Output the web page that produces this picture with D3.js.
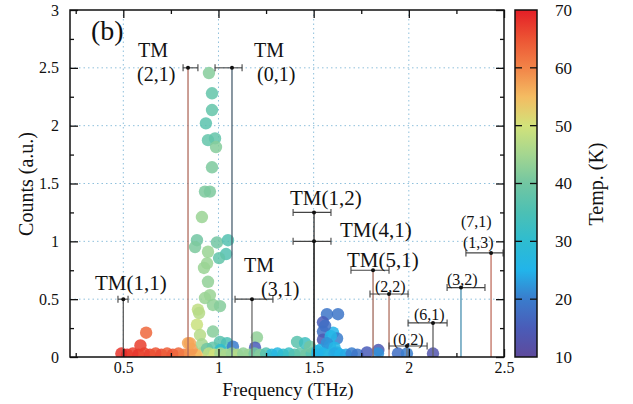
<!DOCTYPE html>
<html><head><meta charset="utf-8">
<script src="https://cdn.jsdelivr.net/npm/d3@7"></script>
<style>body{margin:0;background:#fff} text{font-family:"Liberation Serif","Times New Roman",serif;fill:#111}</style>
</head><body><svg id="c" width="633" height="404"></svg>
<script>
// ---------- data ----------
const xTicks = [0.5, 1, 1.5, 2, 2.5];
const yTicks = [0, 0.5, 1, 1.5, 2, 2.5, 3];
const cbTicks = [10, 20, 30, 40, 50, 60, 70];

const pointFreq = [
  0.49,0.52,0.55,0.58,0.61,0.64,0.67,0.70,0.73,0.76,0.79,0.82,0.85,0.88,0.91,0.59,0.62,0.84,0.86,
  0.950,0.966,0.966,0.934,0.945,0.982,0.987,0.966,0.929,0.955,0.913,0.887,0.877,0.992,1.050,0.945,1.040,1.003,0.940,0.924,0.945,0.955,0.929,0.971,1.008,0.892,0.898,0.887,0.903,0.971,0.850,1.008,1.045,1.076,1.202,1.192,0.913,0.940,0.970,1.010,
  0.95,0.98,1.01,1.04,1.07,1.10,1.13,1.16,1.19,1.22,1.25,1.28,1.31,1.34,1.37,1.40,1.43,1.46,1.49,
  1.413,1.455,1.481,
  1.570,1.628,1.549,1.549,1.602,1.549,1.623,1.586,1.533,1.623,1.560,1.590,1.570,1.610,1.520,
  1.52,1.55,1.58,1.61,1.64,1.67,1.70,1.73,1.78,1.84,1.838,1.943,1.99,2.127
];
const pointCounts = [
  0.03,0.02,0.03,0.02,0.03,0.02,0.03,0.02,0.03,0.02,0.03,0.02,0.03,0.02,0.03,0.10,0.21,0.12,0.07,
  2.455,2.28,2.135,2.02,1.875,1.89,1.815,1.64,1.43,1.43,1.21,1.01,0.95,0.99,1.01,0.91,0.89,0.855,0.81,0.77,0.65,0.535,0.51,0.45,0.44,0.41,0.38,0.28,0.19,0.22,0.12,0.13,0.12,0.09,0.17,0.08,0.11,0.07,0.08,0.06,
  0.03,0.02,0.03,0.02,0.03,0.02,0.03,0.02,0.03,0.02,0.03,0.02,0.03,0.02,0.03,0.02,0.03,0.02,0.03,
  0.13,0.12,0.09,
  0.37,0.37,0.30,0.22,0.21,0.15,0.16,0.10,0.06,0.04,0.27,0.18,0.12,0.08,0.05,
  0.02,0.03,0.02,0.03,0.02,0.02,0.03,0.02,0.04,0.06,0.03,0.03,0.03,0.03
];
const pointTemp = [
  68,69,67,68,66,67,65,66,64,65,63,61,59,57,55,67,63,57,58,
  42,38,38,37,38,38,42,41,41,41,44,40,41,40,36,44,36,38,44,44,43,44,44,43,42,48,47,49,47,42,57,37,35,20,43,15,45,40,38,30,
  48,50,45,46,44,47,43,44,40,42,36,28,27,30,32,36,38,40,36,
  37,33,40,
  19,19,15,18,25,14,20,25,25,24,18,26,22,26,27,
  26,25,27,24,25,24,20,19,15,14,22,18,20,13
];

const modeNames = ["TM(1,1)","TM(2,1)","TM(0,1)","TM(3,1)","TM(1,2)","TM(4,1)","TM(5,1)","(2,2)","(0,2)","(6,1)","(3,2)","(1,3)"];
const modeFreq  = [0.50, 0.84, 1.071, 1.176, 1.502, 1.502, 1.812, 1.896, 1.99, 2.127, 2.274, 2.432];
const modeLow   = [0.472,0.814,0.982,1.087,1.392,1.392,1.696,1.796,1.896,1.996,2.201,2.30];
const modeHigh  = [0.525,0.892,1.124,1.286,1.591,1.591,1.896,1.996,2.096,2.201,2.40,2.495];
const modeCounts= [0.5, 2.5, 2.5, 0.5, 1.25, 1.0, 0.75, 0.545, 0.095, 0.295, 0.6, 0.9];

// ---------- layout ----------
const svg = d3.select("#c");
const L = 70, R = 504, T = 10, B = 357;
const x = d3.scaleLinear().domain([0.22, 2.5]).range([L, R]);
const y = d3.scaleLinear().domain([0, 3]).range([B, T]);
const cy = d3.scaleLinear().domain([10, 70]).range([B, T]);
const cStops = [10,15,20,25,30,35,40,45,50,55,60,65,70];
const cCols = ["#5e4a9c","#4a5cb8","#3a7ccc","#22b4ea","#2ebcd0","#4cc0b4","#72c6a2","#a4d690","#d2e27a","#f4bc62","#f28448","#ec5434","#e41e26"];
const color = d3.scaleLinear().domain(cStops).range(cCols);

svg.append("rect").attr("width",633).attr("height",404).attr("fill","#fff");

// grid
const grid = svg.append("g").attr("stroke","#8fc0dc").attr("stroke-width",1).attr("stroke-dasharray","1.5,3");
xTicks.filter(d=>d<2.5).forEach(d=>grid.append("line").attr("x1",x(d)).attr("x2",x(d)).attr("y1",T).attr("y2",B));
yTicks.filter(d=>d>0&&d<3).forEach(d=>grid.append("line").attr("x1",L).attr("x2",R).attr("y1",y(d)).attr("y2",y(d)));

// points
svg.append("clipPath").attr("id","clip").append("rect").attr("x",L).attr("y",T).attr("width",R-L).attr("height",B-T);
const pts = d3.range(pointFreq.length).map(i=>({f:pointFreq[i],c:pointCounts[i],t:pointTemp[i]}));
svg.append("g").attr("clip-path","url(#clip)").selectAll("circle").data(pts).join("circle")
  .attr("cx",d=>x(d.f)).attr("cy",d=>y(d.c)).attr("r",6.2)
  .attr("fill",d=>color(d.t)).attr("fill-opacity",0.85);

// mode markers
const lineCols = ["#5a5a5a","#b06a5c","#4a6070","#6a6a6a","#303030","#303030","#a0685a","#b07060","#707070","#606060","#4890b0","#c07060"];
const modes = svg.append("g");
modeNames.forEach((n,i)=>{
  const g = modes.append("g");
  g.append("line").attr("x1",x(modeFreq[i])).attr("x2",x(modeFreq[i])).attr("y1",y(0)).attr("y2",y(modeCounts[i]))
    .attr("stroke",lineCols[i]).attr("stroke-width",1.3);
  const yy = y(modeCounts[i]);
  g.append("line").attr("x1",x(modeLow[i])).attr("x2",x(modeHigh[i])).attr("y1",yy).attr("y2",yy).attr("stroke","#444").attr("stroke-width",1.1);
  [modeLow[i],modeHigh[i]].forEach(v=>g.append("line").attr("x1",x(v)).attr("x2",x(v)).attr("y1",yy-3.5).attr("y2",yy+3.5).attr("stroke","#444").attr("stroke-width",1.1));
  g.append("circle").attr("cx",x(modeFreq[i])).attr("cy",yy).attr("r",2).attr("fill","#111");
});

// annotation text layout
const ann = [
  ["TM",138,57,20],["(2,1)",137,81,20],
  ["TM",254,57,20],["(0,1)",257,81,20],
  ["TM(1,1)",95,290,21],
  ["TM",244,272,20],["(3,1)",261,296,20],
  ["TM(1,2)",290,205,21],["TM(4,1)",340,237,21],["TM(5,1)",347,267,21],
  ["(2,2)",375,292,16],["(0,2)",393,345,16],["(6,1)",414,320,16],["(3,2)",447,285,16],
  ["(7,1)",461,227,16],["(1,3)",463,248,16]
];
ann.forEach(a=>svg.append("text").attr("x",a[1]).attr("y",a[2]).attr("font-size",a[3]).text(a[0]));
svg.append("text").attr("x",91).attr("y",40).attr("font-size",28).text("(b)");

// axes
const fmt = d3.format("");
const xMinor = d3.range(0.25,2.5,0.25).filter(d=>!xTicks.includes(d));
const yMinor = d3.range(0.25,3,0.25).filter(d=>!yTicks.includes(d));
function style(g){g.select(".domain").remove();g.selectAll("line").attr("stroke","#111").attr("stroke-width",1.3);g.selectAll("text").attr("font-size",16).attr("font-family","Liberation Serif").attr("fill","#111");}
svg.append("g").attr("transform",`translate(0,${B})`).call(d3.axisBottom(x).tickValues(xTicks).tickSizeInner(-8).tickSizeOuter(0).tickPadding(5).tickFormat(fmt)).call(style);
svg.append("g").attr("transform",`translate(0,${B})`).call(d3.axisBottom(x).tickValues(xMinor).tickSize(-4).tickFormat("")).call(style);
svg.append("g").attr("transform",`translate(0,${T})`).call(d3.axisTop(x).tickValues(xTicks).tickSize(-8).tickFormat("")).call(style);
svg.append("g").attr("transform",`translate(0,${T})`).call(d3.axisTop(x).tickValues(xMinor).tickSize(-4).tickFormat("")).call(style);
svg.append("g").attr("transform",`translate(${L},0)`).call(d3.axisLeft(y).tickValues(yTicks).tickSizeInner(-8).tickSizeOuter(0).tickPadding(11).tickFormat(fmt)).call(style);
svg.append("g").attr("transform",`translate(${L},0)`).call(d3.axisLeft(y).tickValues(yMinor).tickSize(-4).tickFormat("")).call(style);
svg.append("g").attr("transform",`translate(${R},0)`).call(d3.axisRight(y).tickValues(yTicks).tickSize(-8).tickFormat("")).call(style);
svg.append("g").attr("transform",`translate(${R},0)`).call(d3.axisRight(y).tickValues(yMinor).tickSize(-4).tickFormat("")).call(style);
svg.append("rect").attr("x",L).attr("y",T).attr("width",R-L).attr("height",B-T).attr("fill","none").attr("stroke","#111").attr("stroke-width",1.5);

svg.append("text").attr("x",288).attr("y",396).attr("text-anchor","middle").attr("font-size",19).text("Frequency (THz)");
svg.append("text").attr("transform","translate(33,184) rotate(-90)").attr("text-anchor","middle").attr("font-size",20).text("Counts (a.u.)");

// colorbar
const CX = 515, CW = 22;
const grad = svg.append("defs").append("linearGradient").attr("id","cb").attr("x1",0).attr("y1",1).attr("x2",0).attr("y2",0);
cStops.forEach((s,i)=>grad.append("stop").attr("offset",(s-10)/60).attr("stop-color",cCols[i]));
svg.append("rect").attr("x",CX).attr("y",T).attr("width",CW).attr("height",B-T).attr("fill","url(#cb)").attr("stroke","#111").attr("stroke-width",1.5);
cbTicks.filter(d=>d>10&&d<70).forEach(d=>{
  svg.append("line").attr("x1",CX).attr("x2",CX+7).attr("y1",cy(d)).attr("y2",cy(d)).attr("stroke","#111").attr("stroke-width",1.3);
  svg.append("line").attr("x1",CX+CW-7).attr("x2",CX+CW).attr("y1",cy(d)).attr("y2",cy(d)).attr("stroke","#111").attr("stroke-width",1.3);
});
svg.append("g").selectAll("text").data(cbTicks).join("text").attr("x",555).attr("y",d=>cy(d)).attr("dy","0.35em").attr("font-size",17).text(d=>d);
svg.append("text").attr("transform","translate(603,184) rotate(-90)").attr("text-anchor","middle").attr("font-size",20).text("Temp. (K)");
</script></body></html>
